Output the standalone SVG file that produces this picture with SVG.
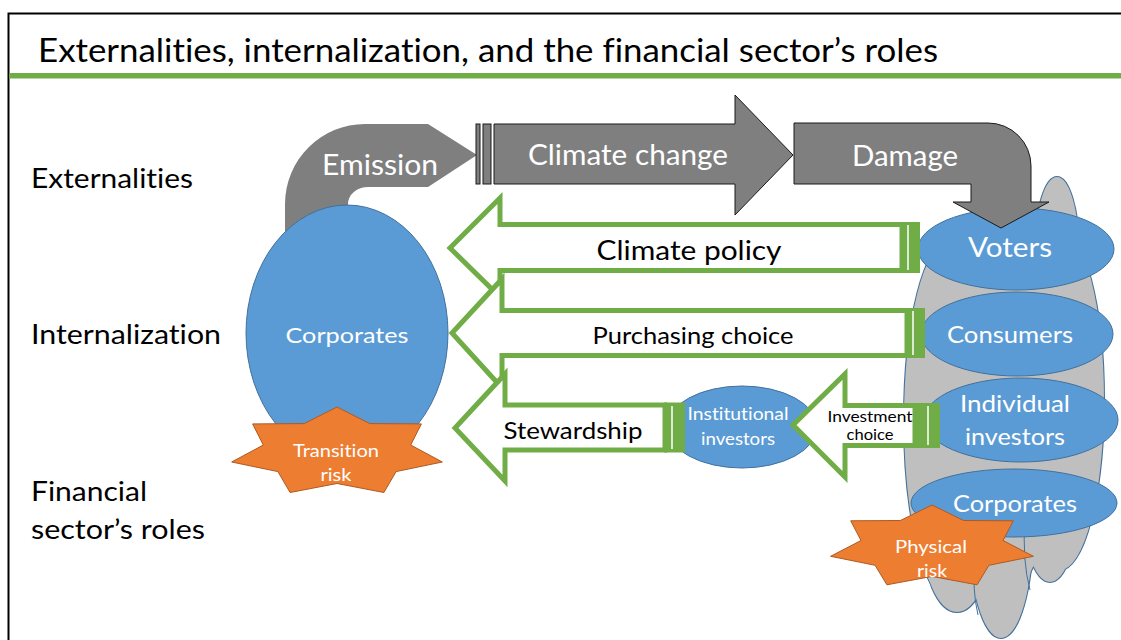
<svg xmlns="http://www.w3.org/2000/svg" width="1121" height="640" viewBox="0 0 1121 640">
<defs>
<style>
text{font-family:Lato,"Open Sans","Liberation Sans",sans-serif;font-variant-ligatures:none;font-feature-settings:"liga" 0,"dlig" 0,"clig" 0;}
.w{fill:#fff;}
.k{fill:#000;}
.mid{text-anchor:middle;}
.blue{fill:#5B9BD5;stroke:#41719C;stroke-width:1;}
.gray{fill:#7F7F7F;stroke:#1a1a1a;stroke-width:1;}
.garr{fill:#fff;stroke:#70AD47;stroke-width:5;stroke-linejoin:miter;}
.gbar{fill:#70AD47;}
.wl{stroke:#fff;stroke-width:1.5;}
.star{fill:#ED7D31;stroke:#AE5A21;stroke-width:1;}
.cloudo{fill:#BFBFBF;stroke:#41719C;stroke-width:2;}
.cloudi{fill:#BFBFBF;stroke:none;}
</style>
</defs>
<rect width="1121" height="640" fill="#fff"/>
<g id="frame">
<path d="M8.5,700 L8.5,13.5 L1200,13.5" fill="none" stroke="#000" stroke-width="2"/>
<rect x="9" y="73" width="1112" height="5.5" fill="#70AD47"/>
<text x="38" y="62" font-size="32" textLength="900" lengthAdjust="spacingAndGlyphs" class="k">Externalities, internalization, and the financial sector’s roles</text>
</g>
<g id="labels">
<text x="31" y="188" font-size="26" textLength="162" lengthAdjust="spacingAndGlyphs">Externalities</text>
<text x="31" y="344" font-size="26" textLength="190" lengthAdjust="spacingAndGlyphs">Internalization</text>
<text x="31" y="501" font-size="26" textLength="116" lengthAdjust="spacingAndGlyphs">Financial</text>
<text x="31" y="539" font-size="26" textLength="174" lengthAdjust="spacingAndGlyphs">sector’s roles</text>
</g>
<g id="cloud">
<g class="cloudo">
<ellipse cx="1057" cy="250" rx="22" ry="73"/>
<ellipse cx="950" cy="420" rx="46" ry="180"/>
<ellipse cx="1060" cy="400" rx="44" ry="170"/>
<ellipse cx="957" cy="530" rx="35" ry="82"/>
<ellipse cx="1001" cy="530" rx="32" ry="108"/>
<ellipse cx="1050" cy="500" rx="28" ry="82"/>
<ellipse cx="1000" cy="400" rx="60" ry="200"/>
</g>
<g class="cloudi">
<ellipse cx="1057" cy="250" rx="22" ry="73"/>
<ellipse cx="950" cy="420" rx="46" ry="180"/>
<ellipse cx="1060" cy="400" rx="44" ry="170"/>
<ellipse cx="957" cy="530" rx="35" ry="82"/>
<ellipse cx="1001" cy="530" rx="32" ry="108"/>
<ellipse cx="1050" cy="500" rx="28" ry="82"/>
<ellipse cx="1000" cy="400" rx="60" ry="200"/>
</g>
<path d="M1025,520 Q1022,560 1030,590 M975,560 Q972,590 978,615" fill="none" stroke="#41719C" stroke-width="1"/>
</g>
<g id="voters">
<ellipse class="blue" cx="1016" cy="249" rx="98" ry="41"/>
<text x="1010" y="257" font-size="26" class="w mid" textLength="84" lengthAdjust="spacingAndGlyphs">Voters</text>
</g>
<g id="consumers">
<ellipse class="blue" cx="1017" cy="334" rx="96" ry="42"/>
<text x="1010" y="343" font-size="23" class="w mid" textLength="126" lengthAdjust="spacingAndGlyphs">Consumers</text>
</g>
<g id="individual-investors">
<ellipse class="blue" cx="1021" cy="420" rx="97" ry="42"/>
<text x="1015" y="412" font-size="23" class="w mid" textLength="110" lengthAdjust="spacingAndGlyphs">Individual</text>
<text x="1015" y="445" font-size="23" class="w mid" textLength="100" lengthAdjust="spacingAndGlyphs">investors</text>
</g>
<g id="corporates-right">
<ellipse class="blue" cx="1014" cy="503" rx="103" ry="34"/>
<text x="1015" y="512" font-size="23" class="w mid" textLength="124" lengthAdjust="spacingAndGlyphs">Corporates</text>
</g>
<g id="institutional-investors">
<ellipse class="blue" cx="742" cy="427" rx="75" ry="41"/>
<text x="738" y="420" font-size="17" class="w mid" textLength="101" lengthAdjust="spacingAndGlyphs">Institutional</text>
<text x="738" y="445" font-size="17" class="w mid" textLength="74" lengthAdjust="spacingAndGlyphs">investors</text>
</g>
<g id="connectors">
<g id="emission">
<path d="M285,300 L285,204 A80,80 0 0 1 365,124 L428,124 L477,155 L428,187 L368,187 A20,17 0 0 0 348,204 L348,300 Z" fill="#7F7F7F"/>
<text x="380" y="175" font-size="28" class="w mid" textLength="116" lengthAdjust="spacingAndGlyphs">Emission</text>
</g>
<g id="climate-change">
<rect class="gray" x="476" y="124" width="4" height="60"/>
<rect class="gray" x="483" y="124" width="8" height="60"/>
<path class="gray" d="M494,124 L735,124 L735,95 L793,155 L735,215 L735,184 L494,184 Z"/>
<text x="628" y="165" font-size="28" class="w mid" textLength="200" lengthAdjust="spacingAndGlyphs">Climate change</text>
</g>
<g id="damage">
<path class="gray" d="M794,123 L988,123 A43,43 0 0 1 1031,166 L1031,202 L1049,202 L1001,228 L953,202 L971,202 L971,184 L794,184 Z"/>
<text x="905" y="166" font-size="28" class="w mid" textLength="106" lengthAdjust="spacingAndGlyphs">Damage</text>
</g>
<g id="climate-policy">
<path class="garr" d="M902,224.5 L500,224.5 L500,198 L450,248 L500,297 L500,270.5 L902,270.5 Z"/>
<rect class="gbar" x="900" y="222" width="20" height="51"/>
<line class="wl" x1="908" y1="225" x2="908" y2="270"/>
<text x="689" y="260" font-size="27" class="k mid" textLength="185" lengthAdjust="spacingAndGlyphs">Climate policy</text>
</g>
<g id="purchasing-choice">
<path class="garr" d="M907,310.5 L502,310.5 L502,279 L452,333 L502,388 L502,355.5 L907,355.5 Z"/>
<rect class="gbar" x="905" y="308" width="20" height="50"/>
<line class="wl" x1="913" y1="311" x2="913" y2="355"/>
<text x="693" y="344" font-size="24" class="k mid" textLength="201" lengthAdjust="spacingAndGlyphs">Purchasing choice</text>
</g>
<g id="stewardship">
<path class="garr" d="M665,405 L505,405 L505,374 L455,428 L505,481 L505,450 L665,450 Z"/>
<rect class="gbar" x="664" y="402.5" width="21" height="50"/>
<line class="wl" x1="672" y1="406" x2="672" y2="449"/>
<text x="573" y="439" font-size="23" class="k mid" textLength="139" lengthAdjust="spacingAndGlyphs">Stewardship</text>
</g>
<g id="investment-choice">
<path class="garr" d="M915,405.5 L845,405.5 L845,374 L793,425 L845,477 L845,445.5 L915,445.5 Z"/>
<rect class="gbar" x="914" y="403" width="26" height="45"/>
<line class="wl" x1="928" y1="406" x2="928" y2="445"/>
<text x="870" y="422" font-size="14.5" class="k mid" textLength="85" lengthAdjust="spacingAndGlyphs">Investment</text>
<text x="870" y="440" font-size="14.5" class="k mid" textLength="47" lengthAdjust="spacingAndGlyphs">choice</text>
</g>
</g>
<g id="corporates-left">
<ellipse class="blue" cx="347" cy="333" rx="101" ry="128"/>
<text x="347" y="343" font-size="22" class="w mid" textLength="123" lengthAdjust="spacingAndGlyphs">Corporates</text>
</g>
<g id="transition-risk">
<polygon class="star" points="337,407 369.8,423.6 421.4,423.9 410.7,445 442.3,462 396.1,471.6 383.9,492.5 337,483.5 290.1,492.5 277.9,471.6 231.7,462 263.3,445 252.6,423.9 304.2,423.6"/>
<text x="336" y="457" font-size="17" class="w mid" textLength="86" lengthAdjust="spacingAndGlyphs">Transition</text>
<text x="336" y="481" font-size="17" class="w mid" textLength="31" lengthAdjust="spacingAndGlyphs">risk</text>
</g>
<g id="physical-risk">
<polygon class="star" points="932,505 963.6,520.5 1013.3,520.8 1003,540.5 1033.4,556.3 988.9,565.3 977.1,584.8 932,576.4 886.9,584.8 875.1,565.3 830.6,556.3 861,540.5 850.7,520.8 900.4,520.5"/>
<text x="931" y="553" font-size="18" class="w mid" textLength="72" lengthAdjust="spacingAndGlyphs">Physical</text>
<text x="932" y="577" font-size="18" class="w mid" textLength="30" lengthAdjust="spacingAndGlyphs">risk</text>
</g>
</svg>
